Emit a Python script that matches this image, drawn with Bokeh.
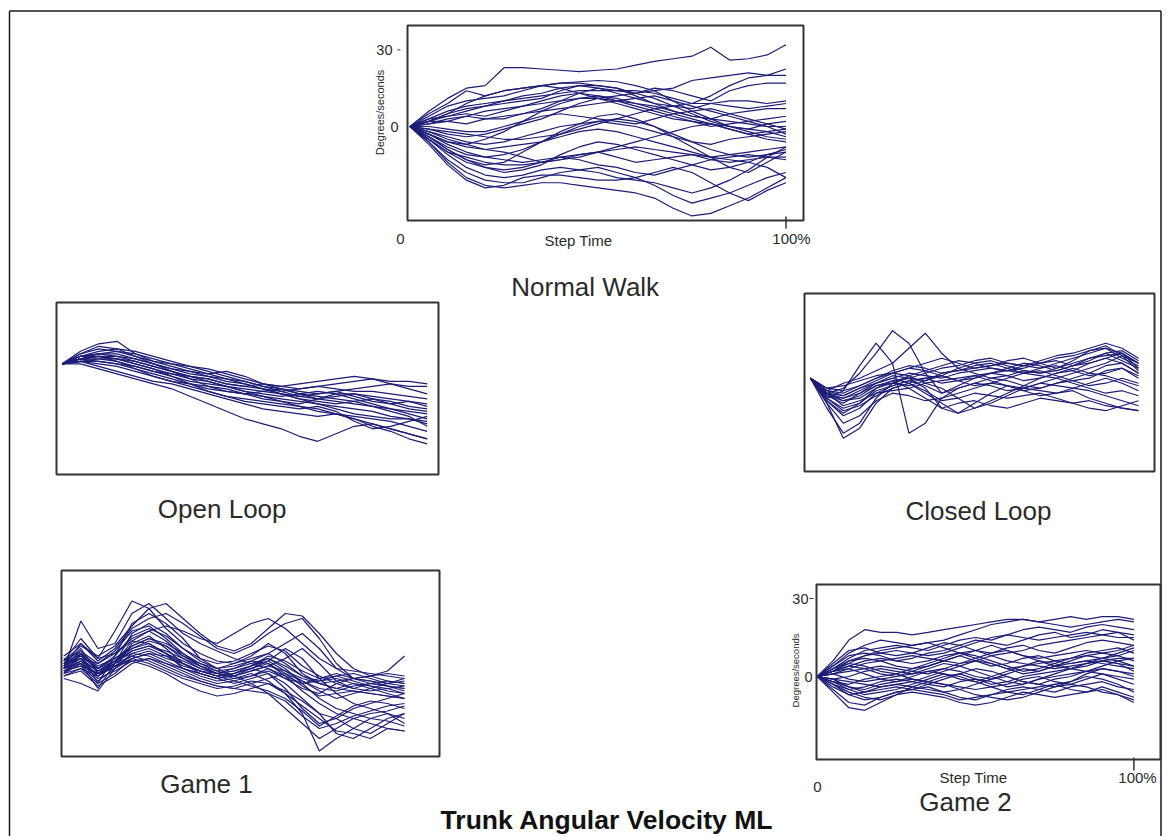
import math

from bokeh.core.properties import value
from bokeh.embed import file_html
from bokeh.models import Range1d
from bokeh.plotting import figure
from bokeh.resources import INLINE

# ---------------------------------------------------------------------------
# Data: trunk angular velocity (deg/s) sampled every 5 % of step time,
# one row per recorded step.
# ---------------------------------------------------------------------------
STEP_PCT = [0, 5, 10, 15, 20, 25, 30, 35, 40, 45, 50, 55, 60, 65, 70, 75, 80, 85, 90, 95, 100]

NORMAL_WALK = [
    [0, 6, 11, 15, 16, 23, 23, 22.5, 22, 21.5, 22, 22.5, 24, 25.5, 26.5, 27.5, 31, 26, 26.5, 28, 32],
    [0, 5, 9, 14, 12, 14, 15, 16, 17, 17.5, 18, 17.5, 16, 14, 15, 18, 19, 20, 21, 20, 22.5],
    [0, 4, 8, 10, 11, 12, 14, 16, 17, 17, 16, 15, 13, 15, 14, 12, 10, 14, 16, 17, 17],
    [0, 3, 6, 8, 9, 10, 12, 13, 15, 16, 15, 13, 11, 9, 8, 7, 9, 10, 10, 9, 10],
    [0, 2, 5, 7, 8, 9, 10, 11, 14, 16, 16, 15, 12, 9, 6, 4, 3, 5, 6, 7, 7],
    [0, 3, 4, 5, 4, 6, 8, 10, 12, 13, 12, 10, 8, 6, 4, 2, 0, 1, 2, 3, 4],
    [0, 1, 3, 4, 3, 3, 5, 7, 10, 13, 15, 14, 13, 11, 8, 5, 2, 0, -1, 1, 2],
    [0, 2, 2, 1, 3, 4, 5, 6, 7, 8, 9, 10, 11, 12, 10, 8, 6, 4, 2, 0, 0],
    [0, 0, -1, -2, -2, 0, 2, 4, 5, 4, 3, 2, 1, 3, 5, 6, 7, 5, 3, 1, -1],
    [0, -1, -3, -4, -3, -1, 1, 3, 6, 9, 11, 12, 13, 14, 10, 6, 3, 0, -2, -4, -5],
    [0, -2, -4, -6, -7, -6, -4, -2, 0, 1, 2, 1, 0, -2, -4, -6, -7, -5, -4, -3, -2],
    [0, -3, -6, -8, -9, -8, -7, -6, -4, -2, -1, -2, -4, -6, -8, -10, -12, -11, -10, -9, -8],
    [0, -4, -8, -11, -12, -11, -9, -6, -3, 0, 2, 3, 2, 0, -3, -6, -9, -11, -12, -11, -10],
    [0, -2, -5, -7, -9, -10, -12, -14, -13, -11, -10, -12, -14, -13, -12, -11, -13, -14, -13, -12, -12],
    [0, -5, -10, -14, -16, -17, -16, -14, -12, -13, -15, -16, -18, -19, -17, -15, -13, -12, -11, -12, -13],
    [0, -5, -11, -16, -19, -20, -19, -17, -16, -17, -18, -20, -21, -22, -24, -26, -24, -21, -17, -12, -8],
    [0, -6, -13, -18, -21, -22, -22, -20, -18, -17, -16, -18, -20, -23, -27, -30, -28, -26, -23, -20, -18],
    [0, -6, -14, -20, -23, -24, -23, -22, -22, -23, -24, -25, -26, -28, -32, -35, -34, -31, -28, -24, -20],
    [0, -7, -15, -21, -24, -23, -20, -19, -19, -20, -21, -21, -20, -18, -16, -18, -22, -26, -29, -25, -22],
    [0, -4, -9, -13, -15, -14, -10, -6, -2, 1, 4, 5, 3, 0, -4, -8, -12, -16, -18, -14, -10],
    [0, 1, 2, 4, 6, 7, 8, 9, 10, 11, 11, 10, 9, 8, 6, 4, 3, 2, 1, 0, -3],
    [0, 2, 4, 6, 8, 10, 11, 12, 13, 14, 14, 14, 14, 13, 11, 9, 9, 8, 7, 8, 9],
    [0, -1, -2, -3, -4, -5, -5, -4, -3, -1, 1, 3, 5, 7, 8, 9, 12, 16, 19, 20, 20],
    [0, -3, -7, -10, -12, -13, -14, -13, -12, -11, -10, -9, -8, -9, -10, -11, -12, -13, -14, -16, -20],
    [0, -5, -10, -12, -14, -15, -15, -14, -13, -12, -10, -8, -6, -4, -2, 0, 1, 0, -1, -2, -4],
    [0, -3, -6, -7, -5, -2, 2, 6, 9, 11, 12, 11, 9, 7, 5, 3, 1, -1, -3, -2, -1],
    [0, 2, 5, 9, 12, 14, 15, 16, 15, 13, 11, 9, 7, 5, 3, 2, 1, -1, -3, -5, -6],
    [0, -4, -9, -13, -16, -18, -17, -15, -11, -8, -6, -7, -9, -11, -13, -15, -17, -16, -14, -11, -9],
]

OPEN_LOOP = [
    [0, 5, 8, 9, 4, 1, 0, -1, -2, -4, -6, -8, -9, -10, -9, -8, -7, -6, -7, -7, -8],
    [0, 4, 6, 5, 3, 1, -1, -3, -5, -6, -7, -9, -10, -11, -12, -11, -10, -9, -8, -9, -9],
    [0, 3, 4, 3, 1, -1, -3, -5, -6, -8, -9, -10, -12, -13, -12, -11, -13, -15, -16, -15, -16],
    [0, 3, 3, 2, 0, -2, -4, -6, -7, -9, -10, -11, -12, -14, -15, -16, -15, -14, -15, -17, -18],
    [0, 2, 2, 1, -1, -3, -5, -7, -8, -9, -11, -12, -13, -12, -11, -12, -14, -16, -18, -20, -22],
    [0, 2, 1, 0, -2, -4, -6, -8, -10, -11, -12, -13, -14, -15, -16, -17, -18, -19, -21, -22, -24],
    [0, 1, 0, -1, -3, -5, -7, -9, -11, -13, -14, -15, -16, -17, -18, -20, -22, -24, -26, -28, -30],
    [0, 1, -1, -3, -5, -7, -8, -10, -12, -14, -16, -18, -19, -20, -21, -20, -22, -25, -27, -30, -32],
    [0, 0, -2, -4, -6, -8, -10, -13, -16, -19, -22, -24, -26, -29, -31, -28, -25, -24, -26, -28, -30],
    [0, 2, 3, 3, 2, 0, -2, -3, -4, -3, -5, -8, -9, -8, -7, -6, -5, -6, -8, -10, -12],
    [0, 3, 5, 6, 5, 3, 1, -1, -3, -5, -7, -9, -11, -13, -14, -15, -16, -17, -18, -19, -20],
    [0, 1, 1, 0, -1, -3, -4, -5, -6, -8, -9, -8, -10, -12, -13, -14, -15, -17, -19, -21, -25],
    [0, 2, 3, 1, -2, -5, -7, -8, -9, -10, -12, -14, -15, -16, -14, -12, -12, -13, -14, -15, -17],
    [0, 1, 2, 2, 1, -1, -3, -5, -7, -9, -11, -13, -15, -17, -19, -20, -21, -22, -23, -25, -27],
    [0, 3, 4, 4, 2, 0, -2, -4, -5, -7, -8, -10, -11, -10, -9, -10, -11, -11, -12, -13, -14],
    [0, 2, 4, 5, 4, 2, 0, -2, -4, -6, -8, -10, -12, -14, -16, -18, -20, -21, -22, -22, -23],
    [0, 4, 7, 6, 3, 0, -3, -6, -9, -11, -12, -11, -10, -12, -14, -13, -12, -14, -16, -18, -19],
    [0, 2, 3, 2, 0, -2, -5, -8, -11, -13, -15, -16, -17, -18, -17, -19, -23, -26, -25, -23, -21],
]

CLOSED_LOOP = [
    [0, -6, -4, 2, 10, 19, 14, 2, -6, -3, 0, 2, 3, 2, 4, 5, 3, 6, 8, 6, 2],
    [0, -8, -5, 5, 14, 6, -22, -18, -8, -4, -2, 0, -1, -3, -4, -2, 0, 2, 1, -1, -3],
    [0, -5, -2, 0, 3, 6, 12, 18, 10, 4, 2, 0, 1, 3, 2, 4, 6, 8, 10, 7, 4],
    [0, -12, -22, -18, -8, -2, 0, -4, -12, -14, -10, -6, -3, -4, -5, -6, -5, -8, -10, -12, -13],
    [0, -10, -24, -20, -10, -4, -2, -5, -9, -8, -6, -7, -8, -7, -6, -8, -10, -9, -11, -12, -13],
    [0, -7, -10, -6, -2, 0, 2, 1, 0, 2, 3, 4, 3, 5, 6, 7, 5, 8, 9, 10, 6],
    [0, -6, -8, -5, -2, 1, 0, -1, 2, 3, 4, 5, 6, 5, 4, 6, 8, 10, 12, 8, 5],
    [0, -9, -15, -12, -6, -3, -1, 0, -2, -1, 1, 2, 4, 6, 5, 3, 5, 7, 10, 11, 7],
    [0, -5, -6, -3, 0, 2, 4, 3, 1, -1, 0, 2, 1, -1, 0, 2, 3, 1, 2, 4, 1],
    [0, -8, -12, -10, -5, -3, -1, -3, -6, -4, -2, -3, -5, -4, -2, -3, -4, -2, 0, -2, -5],
    [0, -4, -3, -1, 1, 2, 1, -2, -4, -8, -12, -10, -7, -4, -2, 0, 2, 4, 6, 9, 3],
    [0, -6, -7, -4, -1, 2, 4, 6, 8, 6, 4, 5, 7, 8, 6, 4, 7, 11, 13, 9, 6],
    [0, -7, -9, -7, -3, -1, -4, -8, -12, -10, -9, -11, -12, -10, -8, -9, -10, -12, -13, -11, -9],
    [0, -5, -7, -4, -2, 0, -2, -6, -10, -14, -12, -9, -6, -3, 0, 2, 4, 2, 5, 6, 2],
    [0, -9, -14, -10, -4, -1, 0, 2, 4, 5, 7, 8, 6, 5, 7, 9, 10, 12, 14, 12, 8],
    [0, -4, -5, -3, 0, 3, 5, 4, 2, 3, 5, 6, 4, 2, 1, 0, -2, -4, -6, -5, -7],
    [0, -6, -11, -9, -6, -5, -4, -2, -1, 0, 1, -1, -3, -5, -4, -2, -1, 0, 3, 4, 0],
    [0, -7, -8, -6, -3, -2, -3, -1, 1, 4, 6, 7, 5, 3, 2, 3, 5, 6, 8, 10, 4],
    [0, -8, -13, -11, -7, -4, -2, 0, 1, -1, -3, -2, 0, 2, 3, 1, -1, -3, -2, 0, -2],
    [0, -6, -9, -8, -4, -2, 1, 3, 5, 7, 6, 4, 3, 4, 6, 8, 9, 11, 12, 10, 6],
    [0, -10, -18, -15, -9, -6, -7, -9, -8, -6, -4, -2, -3, -5, -7, -6, -4, -5, -7, -9, -11],
]

GAME_1 = [
    [0, 19, 8, 10, 22, 26, 20, 14, 10, 7, 4, 2, 0, -3, -6, -4, -2, -4, -5, -7, -8],
    [3, 12, 4, 15, 27, 24, 16, 10, 6, 3, 2, 5, 10, 6, -2, -6, -8, -6, -7, -9, -10],
    [-2, 6, -6, 5, 18, 22, 18, 12, 4, 0, -3, -6, -10, -16, -22, -28, -24, -20, -18, -17, -15],
    [4, 2, -8, 2, 14, 18, 14, 8, 3, 0, 2, 4, 6, 10, 14, 8, 0, -4, -5, -6, -7],
    [-4, -6, -9, 0, 10, 13, 8, 2, -2, -4, -2, 0, -2, -6, -12, -18, -20, -16, -14, -12, -10],
    [1, 5, 0, 4, 8, 10, 6, 0, -3, -5, -4, -2, -5, -10, -18, -33, -28, -24, -20, -18, -20],
    [2, 8, -2, 3, 6, 5, 2, -1, -4, -6, -5, -3, 0, -4, -8, -10, -6, -4, -3, -2, -3],
    [0, 4, 2, 6, 12, 15, 17, 15, 12, 10, 14, 18, 20, 16, 10, 4, 0, -1, -2, -3, -4],
    [-3, 0, -6, -2, 4, 6, 3, 0, -2, -4, -6, -4, -2, -8, -16, -22, -20, -24, -26, -22, -18],
    [5, 10, 3, 8, 16, 20, 22, 18, 13, 8, 6, 9, 14, 18, 20, 12, 2, -4, -6, -7, -8],
    [-1, 3, -3, 1, 5, 3, 0, -3, -5, -7, -8, -6, -4, -2, -5, -9, -12, -10, -8, -6, -4],
    [2, 6, 1, 4, 9, 12, 10, 6, 2, -1, -3, 0, 3, 8, 4, -4, -10, -14, -16, -18, -22],
    [-2, 2, -4, -1, 3, 1, -2, -6, -9, -11, -10, -8, -6, -9, -13, -18, -26, -28, -24, -20, -18],
    [1, 7, 2, 7, 15, 17, 12, 6, 1, -2, 0, 3, 6, 2, -3, -5, -4, -6, -8, -10, -12],
    [0, 3, -1, 2, 7, 9, 6, 3, 0, -2, -3, -1, 1, -1, -4, -6, -8, -9, -10, -11, -12],
    [3, 9, 5, 9, 17, 24, 26, 20, 14, 9, 7, 10, 16, 22, 21, 14, 6, 0, -3, -5, -6],
    [-1, 1, -5, 0, 6, 8, 5, 1, -1, -3, -5, -7, -9, -12, -17, -23, -19, -15, -13, -14, -16],
    [2, 5, 0, 3, 8, 11, 9, 5, 1, -2, -1, 1, 4, 0, -6, -12, -16, -18, -20, -21, -23],
    [-2, 0, -3, 1, 4, 2, -1, -4, -6, -8, -7, -5, -6, -10, -15, -20, -25, -26, -28, -24, -25],
    [0, 2, -2, 2, 5, 7, 4, 2, -1, -3, -2, 0, 2, -3, -9, -14, -18, -20, -22, -24, -25],
    [1, 4, -1, 3, 7, 9, 7, 4, 1, -1, 0, 2, 4, 1, -3, -6, -5, -4, -3, -1, 5],
    [-1, 2, -2, 1, 3, 4, 2, 0, -2, -4, -3, -1, 1, 4, 8, 2, -5, -8, -6, -5, -6],
    [0, 6, -1, 3, 9, 12, 9, 4, 0, -2, -1, 1, 3, -1, -5, -8, -9, -7, -6, -7, -9],
    [2, 4, -3, 2, 11, 15, 11, 5, 2, 0, 1, 3, 2, -2, -7, -11, -10, -9, -10, -11, -12],
    [-1, 1, -2, 0, 4, 6, 5, 2, -1, -2, -4, -3, -1, -4, -6, -5, -3, -5, -7, -8, -7],
    [3, 7, 0, 5, 13, 16, 13, 8, 4, 2, 3, 6, 9, 7, 1, -3, -6, -8, -9, -8, -10],
    [-3, -1, -7, -3, 2, 4, 1, -2, -5, -7, -8, -9, -10, -13, -19, -24, -22, -19, -17, -15, -14],
    [1, 10, 4, 6, 11, 10, 6, 2, -1, -3, -2, 1, 5, 3, -1, -4, -3, -2, -4, -6, -5],
]

GAME_2 = [
    [0, 6, 14, 18, 17, 17, 16, 17, 18, 19, 20, 21, 22, 22, 21, 22, 23, 22, 23, 23, 22],
    [0, 4, 9, 12, 14, 13, 12, 13, 14, 16, 18, 20, 21, 22, 21, 20, 19, 20, 21, 22, 21],
    [0, 3, 7, 10, 11, 12, 11, 10, 12, 14, 15, 14, 16, 18, 19, 18, 17, 19, 20, 19, 18],
    [0, 2, 5, 8, 9, 10, 9, 8, 9, 11, 13, 15, 16, 15, 14, 15, 16, 17, 16, 15, 15],
    [0, 2, 4, 6, 7, 6, 5, 6, 8, 9, 10, 9, 11, 12, 10, 9, 11, 13, 14, 13, 12],
    [0, 1, 3, 5, 6, 7, 8, 7, 6, 5, 7, 9, 10, 8, 7, 8, 9, 10, 9, 8, 10],
    [0, 3, 6, 7, 6, 4, 3, 4, 6, 8, 6, 4, 5, 7, 8, 6, 7, 9, 10, 11, 9],
    [0, 1, 2, 3, 4, 3, 2, 1, 3, 5, 6, 5, 3, 4, 5, 6, 5, 6, 7, 8, 6],
    [0, -1, 0, 2, 3, 2, 1, 2, 3, 2, 0, -1, 1, 3, 2, 4, 5, 6, 5, 4, 3],
    [0, -2, -3, -1, 0, 1, -1, -2, 0, 1, -1, -3, -2, 0, 1, 2, 3, 4, 6, 5, 4],
    [0, -3, -5, -4, -2, -1, -2, -3, -4, -2, -1, -2, -4, -3, -1, 0, 1, 2, 3, 2, 1],
    [0, -4, -7, -6, -4, -3, -4, -5, -6, -5, -3, -1, 0, -2, -3, -1, 0, 2, 1, 0, -1],
    [0, -5, -10, -11, -8, -6, -5, -4, -6, -8, -9, -7, -5, -4, -5, -6, -4, -3, -2, -4, -5],
    [0, -6, -12, -13, -10, -7, -6, -7, -8, -10, -11, -10, -8, -6, -7, -8, -7, -6, -5, -7, -10],
    [0, -3, -7, -9, -8, -6, -5, -6, -7, -9, -8, -7, -6, -5, -4, -3, -5, -6, -4, -6, -8],
    [0, -2, -4, -5, -3, -2, -1, -2, -3, -4, -5, -4, -3, -1, 0, -2, -3, -1, 1, -1, -3],
    [0, 2, 4, 3, 1, 0, 1, 3, 5, 4, 2, 0, -2, -3, -1, 1, 3, 5, 7, 6, 4],
    [0, 1, -1, -2, -1, 0, 2, 4, 6, 8, 10, 12, 10, 8, 6, 4, 3, 5, 6, 7, 7],
    [0, 5, 10, 11, 9, 8, 9, 11, 13, 12, 10, 8, 6, 5, 4, 3, 4, 5, 6, 5, 2],
    [0, -1, -2, -3, -4, -3, -2, 0, 2, 4, 6, 8, 9, 10, 12, 13, 14, 15, 16, 17, 16],
    [0, 2, 6, 8, 10, 11, 12, 13, 11, 9, 7, 5, 3, 1, 2, 4, 6, 8, 9, 10, 12],
    [0, -2, -5, -7, -6, -5, -3, -1, 1, 0, -2, -4, -6, -7, -5, -3, -2, 0, -1, -3, -6],
    [0, 3, 5, 4, 2, 1, 3, 5, 7, 9, 8, 6, 4, 2, 3, 5, 7, 8, 7, 9, 11],
    [0, -1, -4, -6, -5, -4, -5, -3, -1, 1, 3, 2, 0, -2, -3, -4, -2, 1, 3, 2, 0],
    [0, 4, 8, 9, 8, 6, 7, 9, 10, 12, 14, 13, 12, 14, 16, 17, 15, 16, 18, 17, 14],
    [0, -3, -6, -8, -9, -7, -4, -2, -3, -5, -7, -8, -9, -8, -6, -4, -3, -4, -6, -7, -9],
    [0, 2, 3, 1, -1, -2, 0, 2, 1, -1, -2, 0, 2, 4, 6, 5, 3, 2, 4, 6, 7],
]

PANEL_TITLES = ["Normal Walk", "Open Loop", "Closed Loop", "Game 1", "Game 2"]
Y_TICKS = [30, 0]
Y_TICK_LABELS = ["30", "0"]
X_TICK_LABELS = ["0", "100%"]
X_LABEL = "Step Time"
Y_LABEL = "Degrees/seconds"
MAIN_TITLE = "Trunk Angular Velocity ML"

# ---------------------------------------------------------------------------
# Page layout (pixels on a 1167 x 836 page).
# origin: where (0 %, 0 deg/s) sits; scale: px per % and px per deg/s;
# box: framed area (left, top, right, bottom); title: centre x, centre y.
# ---------------------------------------------------------------------------
W, H = 1167, 836
FONT = value("Liberation Sans")
LINE_COLOR = "#1d1d78"
BOX_COLOR = "#333333"
TEXT_COLOR = "#2a2a2a"

PANELS = [
    dict(key="nw", data=NORMAL_WALK, origin=(409.5, 126.0), scale=(3.76, 2.556),
         box=(407, 25, 803, 220), title=(584.7, 286),
         axes=dict(ytick_dx=[-15, -9], dash=(-10, -7), xtick_at=[(400, 238), (791, 238)],
                   tick100=(216, 228), xlabel_at=(578, 240), ylabel_at=(379, 112),
                   ylabel_size="11px")),
    dict(key="ol", data=OPEN_LOOP, origin=(61.7, 363.3), scale=(3.65, 2.5),
         box=(56, 302, 438, 474), title=(221.7, 508), axes=None),
    dict(key="cl", data=CLOSED_LOOP, origin=(810.0, 377.7), scale=(3.28, 2.5),
         box=(804, 293, 1154, 471), title=(978.0, 510), axes=None),
    dict(key="g1", data=GAME_1, origin=(63.3, 668.0), scale=(3.407, 2.5),
         box=(61, 570, 439, 756), title=(206.0, 783), axes=None),
    dict(key="g2", data=GAME_2, origin=(816.7, 676.0), scale=(3.167, 2.6),
         box=(816, 584, 1160, 759), title=(965.0, 801),
         axes=dict(ytick_dx=[-8, -4], dash=(-7, -3), xtick_at=[(817, 786), (1137, 777)],
                   tick100=(757, 770), xlabel_at=(973, 777), ylabel_at=(795, 670),
                   ylabel_size="9.5px")),
]

p = figure(width=W, height=H, x_range=Range1d(0, W), y_range=Range1d(H, 0),
           x_axis_type=None, y_axis_type=None, toolbar_location=None,
           output_backend="svg", min_border=0)
p.min_border_left = p.min_border_right = p.min_border_top = p.min_border_bottom = 0
p.outline_line_color = None
p.background_fill_color = "white"
p.border_fill_color = "white"

# outer page frame (left, top and right edges)
p.segment(x0=[9, 9, 1160.5], y0=[10.5, 10.5, 10.5], x1=[1160.5, 9, 1160.5], y1=[10.5, H, H],
          line_color="#1a1a1a", line_width=1.5)

for panel, title in zip(PANELS, PANEL_TITLES):
    key = panel["key"]
    ox, oy = panel["origin"]
    sx, sy = panel["scale"]
    p.extra_x_ranges[key] = Range1d(-ox / sx, (W - ox) / sx)
    p.extra_y_ranges[key] = Range1d((oy - H) / sy, oy / sy)

    def gx(px, ox=ox, sx=sx):
        return (px - ox) / sx

    def gy(py, oy=oy, sy=sy):
        return (oy - py) / sy

    rn = dict(x_range_name=key, y_range_name=key)
    series = panel["data"]
    p.multi_line(xs=[STEP_PCT] * len(series), ys=series, line_color=LINE_COLOR,
                 line_width=1.2, **rn)

    l, t, r, b = panel["box"]
    p.quad(left=[gx(l)], right=[gx(r)], top=[gy(t)], bottom=[gy(b)],
           fill_color=None, line_color=BOX_COLOR, line_width=2, **rn)

    ax = panel["axes"]
    if ax:
        # y ticks at 0 and 30 deg/s
        p.text(x=[gx(l)] * 2, y=Y_TICKS, text=Y_TICK_LABELS, x_offset=ax["ytick_dx"],
               text_align="right", text_baseline="middle", text_font=FONT,
               text_font_size="14.5px", text_color=TEXT_COLOR, **rn)
        d0, d1 = ax["dash"]
        p.segment(x0=[gx(l + d0)], x1=[gx(l + d1)], y0=[Y_TICKS[0]], y1=[Y_TICKS[0]],
                  line_color=BOX_COLOR, line_width=1, **rn)
        # tick at 100 % of step time
        p.segment(x0=[STEP_PCT[-1]], x1=[STEP_PCT[-1]], y0=[gy(ax["tick100"][0])],
                  y1=[gy(ax["tick100"][1])], line_color=BOX_COLOR, line_width=1.5, **rn)
        (x0l, y0l), (x1l, y1l) = ax["xtick_at"]
        p.text(x=[x0l, x1l], y=[y0l, y1l], text=X_TICK_LABELS, text_align="center",
               text_baseline="middle", text_font=FONT, text_font_size="15px",
               text_color=TEXT_COLOR)
        p.text(x=[ax["xlabel_at"][0]], y=[ax["xlabel_at"][1]], text=[X_LABEL],
               text_align="center", text_baseline="middle", text_font=FONT,
               text_font_size="15px", text_color=TEXT_COLOR)
        p.text(x=[ax["ylabel_at"][0]], y=[ax["ylabel_at"][1]], text=[Y_LABEL],
               angle=math.pi / 2, text_align="center", text_baseline="middle",
               text_font=FONT, text_font_size=ax["ylabel_size"], text_color=TEXT_COLOR)

    p.text(x=[panel["title"][0]], y=[panel["title"][1]], text=[title], text_align="center",
           text_baseline="middle", text_font=FONT, text_font_size="26px",
           text_color=TEXT_COLOR)

p.text(x=[606.5], y=[819], text=[MAIN_TITLE], text_align="center", text_baseline="middle",
       text_font=FONT, text_font_size="26.5px", text_font_style="bold", text_color="#111111")

open("out.html", "w").write(file_html(p, INLINE))
